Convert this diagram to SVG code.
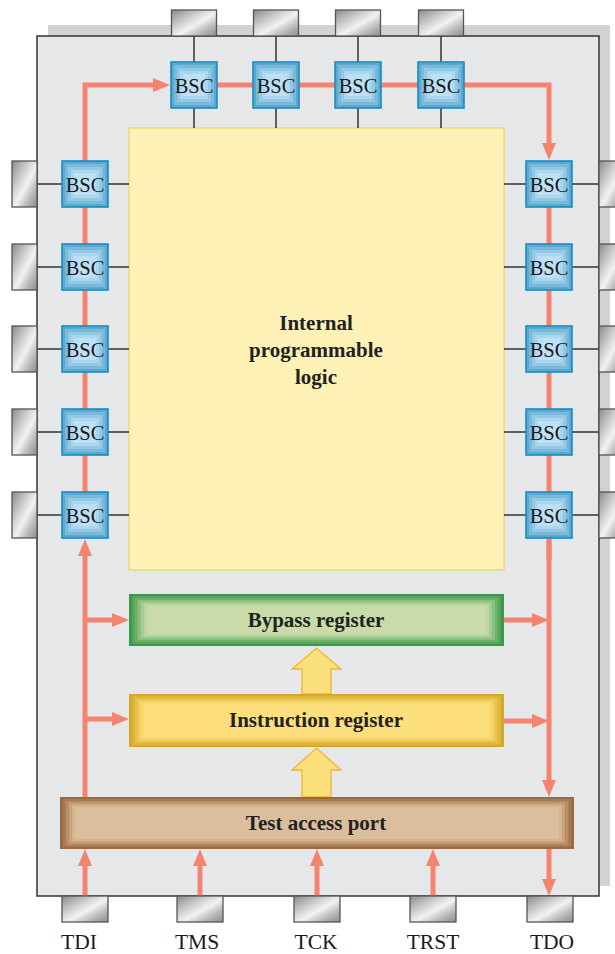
<svg xmlns="http://www.w3.org/2000/svg" xmlns:xlink="http://www.w3.org/1999/xlink" width="615" height="954" viewBox="0 0 615 954">
<style>
.wire{stroke:#333;stroke-width:1.5;fill:none}
.red{stroke:#f4846f;stroke-width:5;fill:none}
.redA{stroke:#f4846f;stroke-width:5;fill:none;marker-end:url(#ah)}
.pin{fill:url(#pinGrad);stroke:#555;stroke-width:1.3}
.bsct{font-family:"Liberation Serif","Times New Roman",serif;font-size:20.5px;fill:#1a1a1a;text-anchor:middle}
.lbl{font-family:"Liberation Serif","Times New Roman",serif;font-size:21.5px;fill:#1a1a1a;text-anchor:middle}
.bold{font-family:"Liberation Serif","Times New Roman",serif;font-size:21px;font-weight:bold;fill:#222;text-anchor:middle}
.up{fill:#fde07e;stroke:#efb52c;stroke-width:1.3}
</style>
<defs>
<linearGradient id="pinGrad" x1="0" y1="0" x2="1" y2="1">
<stop offset="0" stop-color="#8a8a8a"/>
<stop offset="0.4" stop-color="#d8d8d8"/>
<stop offset="0.55" stop-color="#f2f2f2"/>
<stop offset="0.75" stop-color="#bdbdbd"/>
<stop offset="1" stop-color="#8c8c8c"/>
</linearGradient>
<marker id="ah" markerUnits="userSpaceOnUse" markerWidth="18" markerHeight="15" refX="5" refY="7" orient="auto">
<path d="M0,0 L17,7 L0,14 z" fill="#f4846f"/>
</marker>
<g id="bscShape">
<rect x="0" y="0" width="46" height="46" fill="#5aa9d0" stroke="#1a8cc0" stroke-width="1.6"/>
<rect x="3" y="3" width="40" height="40" fill="#79b9da"/>
<rect x="6" y="6" width="34" height="34" fill="#94c9e5"/>
<rect x="9" y="9" width="28" height="28" fill="#abd6ee"/>
<rect x="12" y="12" width="22" height="22" fill="#bde0f5"/>
</g>
</defs>

<!-- chip body -->
<rect x="48" y="25" width="562" height="861" fill="#d1d2d4"/>
<rect x="37" y="36" width="562" height="860" fill="#e6e7e9" stroke="#333" stroke-width="1.5"/>

<g id="logic">
<rect x="129" y="128" width="375" height="442" fill="#fdf1b5" stroke="#f3d36c" stroke-width="1.3"/>
<text class="bold" x="316" y="330">Internal</text>
<text class="bold" x="316" y="357">programmable</text>
<text class="bold" x="316" y="384">logic</text>
</g>

<g id="wires">
<path class="wire" d="M194,36V128M276,36V128M358,36V128M441,36V128"/>
<path class="wire" d="M37,184H129M37,267H129M37,349H129M37,432H129M37,515H129"/>
<path class="wire" d="M504,184H599M504,267H599M504,349H599M504,432H599M504,515H599"/>
</g>

<g id="connectors">
<path class="red" d="M85,500V180"/>
<path class="redA" d="M85,200V85H158"/>
<path class="red" d="M210,85H450"/>
<path class="redA" d="M460,85H549V148"/>
<path class="red" d="M549,200V560"/>
<path class="redA" d="M549,540V785"/>
<path class="redA" d="M85,797V551"/>
<path class="redA" d="M85,620H117"/>
<path class="redA" d="M85,719H117"/>
<path class="redA" d="M504,620H537"/>
<path class="redA" d="M504,721H537"/>
<path class="redA" d="M549,849V884"/>
<path class="redA" d="M85,896V861"/>
<path class="redA" d="M200,896V861"/>
<path class="redA" d="M317,896V861"/>
<path class="redA" d="M433,896V861"/>
<path class="up" d="M302,694V669H292L316.5,648L341,669H331V694Z"/>
<path class="up" d="M302,797V770H292L316.5,748L341,770H331V797Z"/>
</g>

<!-- top pins and BSCs -->
<g id="pinT1"><rect class="pin" x="171.5" y="10" width="45" height="26"/></g>
<g id="pinT2"><rect class="pin" x="253.5" y="10" width="45" height="26"/></g>
<g id="pinT3"><rect class="pin" x="335.5" y="10" width="45" height="26"/></g>
<g id="pinT4"><rect class="pin" x="418.5" y="10" width="45" height="26"/></g>
<g id="bscT1"><use xlink:href="#bscShape" x="171" y="62"/><text class="bsct" x="194" y="93">BSC</text></g>
<g id="bscT2"><use xlink:href="#bscShape" x="253" y="62"/><text class="bsct" x="276" y="93">BSC</text></g>
<g id="bscT3"><use xlink:href="#bscShape" x="335" y="62"/><text class="bsct" x="358" y="93">BSC</text></g>
<g id="bscT4"><use xlink:href="#bscShape" x="418" y="62"/><text class="bsct" x="441" y="93">BSC</text></g>

<!-- left pins and BSCs -->
<g id="pinL1"><rect class="pin" x="12" y="161" width="25" height="46"/></g>
<g id="pinL2"><rect class="pin" x="12" y="244" width="25" height="46"/></g>
<g id="pinL3"><rect class="pin" x="12" y="326" width="25" height="46"/></g>
<g id="pinL4"><rect class="pin" x="12" y="409" width="25" height="46"/></g>
<g id="pinL5"><rect class="pin" x="12" y="492" width="25" height="46"/></g>
<g id="bscL1"><use xlink:href="#bscShape" x="62" y="161"/><text class="bsct" x="85" y="192">BSC</text></g>
<g id="bscL2"><use xlink:href="#bscShape" x="62" y="244"/><text class="bsct" x="85" y="275">BSC</text></g>
<g id="bscL3"><use xlink:href="#bscShape" x="62" y="326"/><text class="bsct" x="85" y="357">BSC</text></g>
<g id="bscL4"><use xlink:href="#bscShape" x="62" y="409"/><text class="bsct" x="85" y="440">BSC</text></g>
<g id="bscL5"><use xlink:href="#bscShape" x="62" y="492"/><text class="bsct" x="85" y="523">BSC</text></g>

<!-- right pins and BSCs -->
<g id="pinR1"><rect class="pin" x="599" y="161" width="25" height="46"/></g>
<g id="pinR2"><rect class="pin" x="599" y="244" width="25" height="46"/></g>
<g id="pinR3"><rect class="pin" x="599" y="326" width="25" height="46"/></g>
<g id="pinR4"><rect class="pin" x="599" y="409" width="25" height="46"/></g>
<g id="pinR5"><rect class="pin" x="599" y="492" width="25" height="46"/></g>
<g id="bscR1"><use xlink:href="#bscShape" x="526" y="161"/><text class="bsct" x="549" y="192">BSC</text></g>
<g id="bscR2"><use xlink:href="#bscShape" x="526" y="244"/><text class="bsct" x="549" y="275">BSC</text></g>
<g id="bscR3"><use xlink:href="#bscShape" x="526" y="326"/><text class="bsct" x="549" y="357">BSC</text></g>
<g id="bscR4"><use xlink:href="#bscShape" x="526" y="409"/><text class="bsct" x="549" y="440">BSC</text></g>
<g id="bscR5"><use xlink:href="#bscShape" x="526" y="492"/><text class="bsct" x="549" y="523">BSC</text></g>

<g id="bypass">
<rect x="129" y="594" width="375" height="52" fill="#3b9a4a"/>
<rect x="132" y="596" width="369" height="48" fill="#55a55a"/>
<rect x="135" y="598" width="363" height="44" fill="#70b26c"/>
<rect x="138" y="600" width="357" height="40" fill="#8cc080"/>
<rect x="141" y="602" width="351" height="36" fill="#a6cc93"/>
<rect x="144" y="604" width="345" height="32" fill="#bcd6a2"/>
<rect x="147" y="606" width="339" height="28" fill="#c8dba8"/>
<text class="bold" x="316" y="627">Bypass register</text>
</g>

<g id="instruction">
<rect x="129" y="694" width="375" height="53" fill="#d3a92c"/>
<rect x="132" y="696" width="369" height="49" fill="#dcb53a"/>
<rect x="135" y="698" width="363" height="45" fill="#e6c24b"/>
<rect x="138" y="700" width="357" height="41" fill="#f0cf5e"/>
<rect x="141" y="702" width="351" height="37" fill="#f8d96f"/>
<rect x="144" y="704" width="345" height="33" fill="#fddf7d"/>
<text class="bold" x="316" y="727">Instruction register</text>
</g>

<g id="tap">
<rect x="60" y="797" width="514" height="52" fill="#9a6a44"/>
<rect x="63" y="799" width="508" height="48" fill="#a87a54"/>
<rect x="66" y="801" width="502" height="44" fill="#b88d67"/>
<rect x="69" y="803" width="496" height="40" fill="#c7a17c"/>
<rect x="72" y="805" width="490" height="36" fill="#d3b390"/>
<rect x="75" y="807" width="484" height="32" fill="#dbbf9c"/>
<text class="bold" x="316" y="830">Test access port</text>
</g>

<g id="TDI"><rect class="pin" x="62" y="896" width="46" height="26"/><text class="lbl" x="79" y="949">TDI</text></g>
<g id="TMS"><rect class="pin" x="177" y="896" width="46" height="26"/><text class="lbl" x="197" y="949">TMS</text></g>
<g id="TCK"><rect class="pin" x="294" y="896" width="46" height="26"/><text class="lbl" x="316" y="949">TCK</text></g>
<g id="TRST"><rect class="pin" x="410" y="896" width="46" height="26"/><text class="lbl" x="433" y="949">TRST</text></g>
<g id="TDO"><rect class="pin" x="527" y="896" width="46" height="26"/><text class="lbl" x="552" y="949">TDO</text></g>
</svg>
